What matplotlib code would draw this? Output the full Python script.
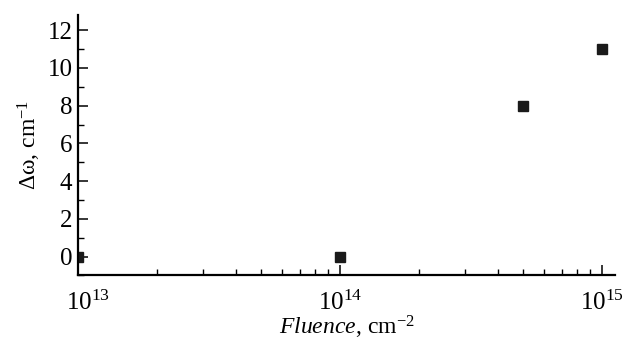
import matplotlib
matplotlib.use("Agg")
import matplotlib.pyplot as plt
import matplotlib.transforms as mtransforms
from matplotlib.ticker import LogLocator, MultipleLocator, LogFormatterMathtext

plt.rcParams['font.family'] = ['Liberation Serif', 'DejaVu Serif']
plt.rcParams['mathtext.fontset'] = 'custom'
plt.rcParams['mathtext.rm'] = 'Liberation Serif'
plt.rcParams['mathtext.it'] = 'Liberation Serif:italic'

# data
fluence = [1e13, 1e14, 5e14, 1e15]
d_omega = [0, 0, 8, 11]

fig = plt.figure(figsize=(6.29, 3.43), dpi=100)
ax = fig.add_axes([0.124, 0.197, 0.854, 0.759])

ax.plot(fluence, d_omega, 's', color='#1a1a1a', markersize=7)

ax.set_xscale('log')
ax.set_xlim(1e13, 1.12e15)
ax.set_ylim(-1, 12.8)

ax.xaxis.set_major_locator(LogLocator(base=10))
ax.xaxis.set_minor_locator(LogLocator(base=10, subs=range(2, 10)))
ax.xaxis.set_major_formatter(LogFormatterMathtext())
ax.yaxis.set_major_locator(MultipleLocator(2))
ax.yaxis.set_minor_locator(MultipleLocator(1))

for s in ['top', 'right']:
    ax.spines[s].set_visible(False)
for s in ['left', 'bottom']:
    ax.spines[s].set_linewidth(1.6)

ax.tick_params(which='major', direction='in', length=7, width=1.1, labelsize=18)
ax.tick_params(which='minor', direction='in', length=4, width=1.0)
ax.tick_params(axis='x', which='major', pad=11)
ax.tick_params(axis='y', which='major', pad=4)

ax.set_xlabel(r'$\mathit{Fluence}$, cm$^{-2}$', fontsize=17, labelpad=-1)
ax.set_ylabel(r'Δω, cm$^{-1}$', fontsize=17, labelpad=3)

# first x label sits a little to the right of the axis corner
fig.canvas.draw()
for t in ax.get_xticklabels():
    if '13' in t.get_text():
        t.set_transform(t.get_transform() + mtransforms.ScaledTranslation(0.1, 0, fig.dpi_scale_trans))

fig.savefig('out.png', dpi=100)
